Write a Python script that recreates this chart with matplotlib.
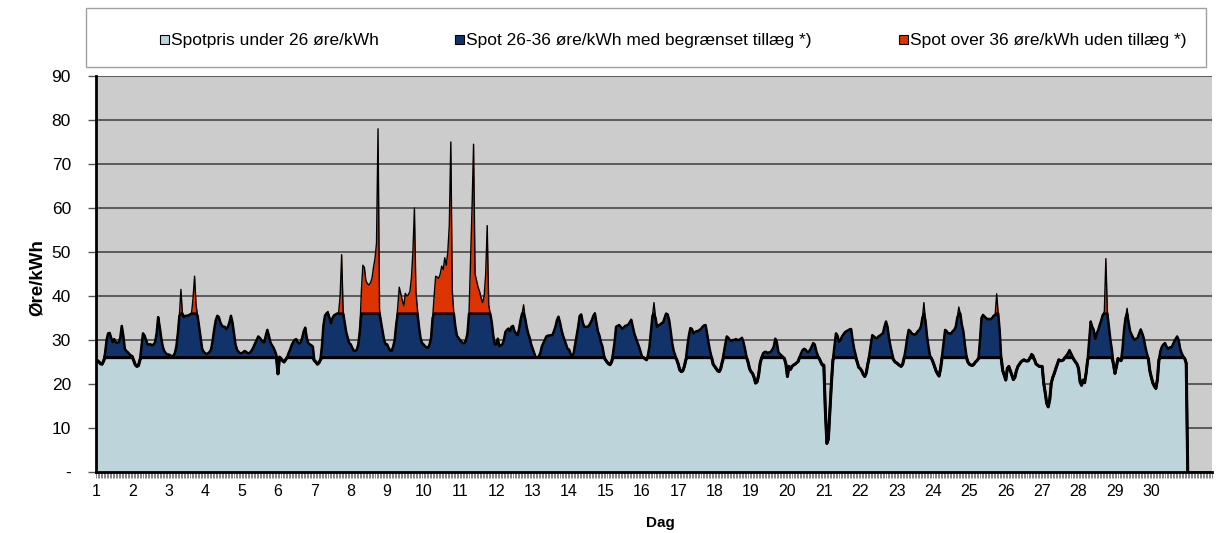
import numpy as np
import matplotlib
matplotlib.use('Agg')
import matplotlib.pyplot as plt
import matplotlib.patches as patches

plt.rcParams['font.family'] = ['Liberation Sans', 'DejaVu Sans']

# hourly spot price, ore/kWh, one list per day (24 values)
d1 = [25.5, 25.3, 25.0, 24.6, 24.5, 25.2, 27.0, 30.0, 31.5, 31.6, 30.5, 29.5, 30.2, 29.5, 29.3, 29.5, 30.5, 33.2, 31.0, 28.0, 27.5, 27.2, 26.8, 26.5]
d2 = [26.3, 25.2, 24.3, 24.0, 24.2, 25.5, 28.5, 31.5, 31.0, 30.0, 29.0, 29.0, 29.0, 28.8, 29.0, 29.5, 31.5, 35.2, 33.0, 30.5, 28.5, 27.5, 27.0, 26.7]
d3 = [26.7, 26.5, 26.3, 26.4, 27.0, 28.5, 31.5, 35.5, 41.5, 36.0, 35.2, 35.5, 35.5, 35.6, 35.8, 36.0, 39.5, 44.5, 38.0, 35.5, 33.0, 30.5, 28.0, 27.3]
d4 = [27.0, 26.8, 27.0, 27.3, 28.0, 30.0, 32.5, 34.5, 35.5, 35.2, 34.0, 33.3, 33.0, 33.0, 32.5, 33.0, 34.0, 35.5, 34.0, 31.5, 29.0, 27.8, 27.3, 27.0]
d5 = [27.0, 27.2, 27.5, 27.3, 27.0, 27.0, 27.3, 27.8, 28.5, 29.3, 30.0, 30.8, 30.5, 30.0, 29.5, 29.5, 31.0, 32.3, 31.0, 29.5, 28.8, 28.3, 27.5, 26.5]
d6 = [22.3, 26.2, 25.8, 25.3, 25.0, 25.5, 26.0, 27.0, 27.8, 28.8, 29.5, 30.0, 30.2, 29.5, 29.2, 29.5, 30.5, 32.0, 32.8, 30.5, 29.3, 29.0, 28.8, 28.5]
d7 = [25.3, 25.0, 24.5, 24.8, 25.5, 28.5, 33.3, 35.5, 36.2, 36.5, 35.0, 33.8, 35.0, 35.6, 35.8, 36.0, 36.2, 40.0, 49.4, 36.5, 34.0, 31.8, 30.5, 29.3]
d8 = [29.0, 28.2, 27.6, 27.5, 27.8, 29.0, 32.0, 41.0, 47.0, 46.5, 43.5, 42.8, 42.5, 43.0, 44.0, 46.5, 48.5, 52.0, 78.0, 37.0, 34.0, 32.0, 30.0, 29.0]
d9 = [29.0, 28.2, 27.6, 27.5, 28.5, 30.0, 33.5, 37.5, 42.0, 40.5, 39.0, 37.8, 40.6, 40.0, 40.3, 41.0, 44.0, 50.0, 60.0, 41.0, 37.0, 33.0, 30.5, 29.3]
d10 = [29.0, 28.6, 28.3, 28.2, 29.0, 30.5, 35.0, 40.0, 44.5, 44.3, 44.0, 45.0, 46.8, 46.0, 48.7, 47.0, 50.0, 56.0, 75.0, 41.0, 36.0, 33.0, 31.0, 30.5]
d11 = [30.0, 29.6, 29.3, 29.3, 30.0, 31.5, 36.0, 48.0, 60.0, 74.5, 45.0, 43.5, 42.0, 41.0, 39.5, 38.5, 40.0, 45.0, 56.0, 38.0, 36.0, 34.0, 31.0, 29.0]
d12 = [29.0, 30.3, 28.6, 28.8, 29.0, 30.0, 31.8, 32.3, 32.6, 32.0, 33.0, 33.2, 32.0, 31.5, 31.1, 32.5, 34.5, 36.0, 38.0, 35.0, 33.0, 31.5, 30.5, 29.0]
d13 = [28.0, 27.0, 26.0, 26.0, 26.3, 27.0, 28.5, 29.3, 30.0, 30.8, 31.0, 31.0, 31.1, 31.1, 32.0, 33.0, 34.5, 35.3, 34.0, 32.3, 31.0, 30.0, 29.0, 28.0]
d14 = [27.8, 26.8, 26.4, 27.0, 29.0, 31.0, 33.0, 35.5, 35.8, 34.0, 33.0, 33.0, 33.0, 33.2, 33.8, 34.5, 35.5, 36.2, 34.0, 32.0, 31.0, 29.5, 28.5, 26.5]
d15 = [25.5, 25.0, 24.6, 24.4, 25.0, 27.0, 29.5, 33.0, 33.2, 33.4, 33.0, 32.6, 32.8, 33.2, 33.3, 33.5, 34.0, 34.6, 33.0, 31.5, 30.5, 29.5, 28.6, 27.5]
d16 = [26.3, 26.0, 25.8, 25.5, 26.5, 28.5, 32.0, 35.5, 38.5, 35.0, 33.0, 33.3, 33.5, 33.8, 34.0, 35.0, 36.0, 35.8, 34.5, 32.0, 29.3, 27.5, 26.5, 25.5]
d17 = [24.5, 23.2, 22.8, 23.0, 24.0, 25.5, 28.5, 31.0, 32.7, 32.5, 31.5, 31.8, 32.0, 32.0, 32.3, 32.5, 33.0, 33.3, 33.4, 31.5, 29.3, 27.5, 26.0, 24.5]
d18 = [24.0, 23.5, 23.0, 22.8, 23.5, 25.0, 27.0, 29.0, 30.8, 30.5, 30.0, 29.8, 30.0, 30.0, 30.2, 30.0, 30.0, 30.2, 30.5, 29.5, 28.0, 26.2, 25.0, 23.5]
d19 = [22.8, 22.4, 21.5, 20.2, 20.5, 22.0, 24.7, 26.0, 27.0, 27.3, 27.3, 27.0, 27.2, 27.3, 27.8, 28.5, 30.3, 29.5, 27.3, 26.8, 26.5, 26.2, 25.8, 24.5]
d20 = [21.7, 24.0, 23.3, 24.0, 24.3, 24.5, 24.8, 25.1, 26.0, 27.0, 27.7, 28.0, 27.8, 27.3, 27.3, 27.8, 28.5, 29.3, 29.0, 27.5, 26.5, 25.8, 25.0, 24.3]
d21 = [24.3, 14.0, 6.5, 7.5, 14.0, 20.2, 25.5, 28.5, 31.5, 31.0, 29.6, 30.0, 30.8, 31.3, 31.8, 32.0, 32.2, 32.4, 32.5, 30.0, 28.0, 26.6, 25.0, 23.8]
d22 = [23.5, 23.0, 22.2, 21.7, 22.5, 24.5, 26.6, 29.0, 31.1, 30.8, 30.5, 30.4, 30.8, 31.0, 31.3, 31.5, 33.0, 34.2, 33.0, 30.4, 28.5, 27.0, 25.5, 25.0]
d23 = [24.8, 24.5, 24.2, 24.0, 24.5, 26.0, 28.0, 30.5, 32.3, 32.0, 31.5, 31.3, 31.2, 31.5, 32.0, 32.3, 33.0, 35.0, 38.5, 34.5, 31.0, 28.5, 26.5, 25.8]
d24 = [25.0, 24.0, 23.0, 22.3, 21.8, 23.5, 26.5, 29.5, 32.3, 32.0, 31.5, 31.5, 31.5, 32.0, 32.3, 33.0, 35.0, 37.5, 36.0, 33.5, 32.0, 29.0, 26.5, 25.0]
d25 = [24.5, 24.3, 24.2, 24.5, 25.0, 25.3, 25.8, 30.0, 35.0, 35.7, 35.3, 35.0, 34.7, 34.8, 34.7, 35.0, 35.5, 35.7, 40.5, 36.0, 32.0, 25.8, 23.0, 22.0]
d26 = [20.9, 23.5, 24.0, 23.0, 22.0, 21.0, 21.5, 23.0, 24.0, 24.5, 25.0, 25.3, 25.5, 25.3, 25.2, 25.3, 26.0, 26.8, 26.5, 25.5, 24.5, 24.3, 24.0, 24.0]
d27 = [24.0, 20.2, 18.0, 15.6, 14.8, 16.5, 20.2, 21.5, 22.4, 23.5, 24.5, 25.5, 25.3, 25.3, 25.5, 26.0, 26.5, 27.0, 27.7, 27.0, 26.3, 25.5, 25.0, 24.5]
d28 = [23.5, 20.5, 19.7, 20.9, 20.3, 22.5, 25.5, 30.0, 34.2, 33.0, 32.3, 30.3, 31.5, 32.3, 33.5, 34.5, 35.7, 36.5, 48.5, 36.5, 33.0, 30.0, 27.7, 24.5]
d29 = [22.4, 24.0, 25.8, 25.5, 25.3, 28.0, 32.3, 35.0, 37.2, 34.0, 32.0, 31.2, 30.5, 30.0, 30.3, 30.5, 31.5, 32.4, 31.5, 30.4, 28.5, 27.0, 25.8, 23.0]
d30 = [21.5, 20.2, 19.5, 19.0, 21.0, 25.5, 27.5, 28.5, 29.0, 29.3, 28.5, 28.0, 28.3, 28.3, 28.8, 29.6, 30.2, 30.8, 30.0, 28.0, 27.0, 26.3, 25.8, 24.7]
end_value = [0.0]  # series drops to zero after the last hour

days = [d1, d2, d3, d4, d5, d6, d7, d8, d9, d10, d11, d12, d13, d14, d15,
        d16, d17, d18, d19, d20, d21, d22, d23, d24, d25, d26, d27, d28, d29, d30]
day_labels = [str(i) for i in range(1, 31)]

low_limit = 26
high_limit = 36
labels = ['Spotpris under 26 øre/kWh',
          'Spot 26-36 øre/kWh med begrænset tillæg *)',
          'Spot over 36 øre/kWh uden tillæg *)']
colors = ['#BCD4DA', '#11336A', '#DD3300']

price = np.array(sum(days, []) + end_value)
hours = np.arange(len(price))

# stacked like the spreadsheet: three series per hour
low = np.minimum(price, low_limit)
mid = np.minimum(price, high_limit)

fig = plt.figure(figsize=(12.16, 5.33), dpi=100)
ax = fig.add_axes([96/1216, 1-472/533, (1212-96)/1216, (472-76)/533])
ax.set_facecolor('#CCCCCC')

ax.fill_between(hours, 0, low, color=colors[0], lw=0, zorder=2)
ax.fill_between(hours, low, mid, color=colors[1], lw=0, zorder=2)
ax.fill_between(hours, mid, price, color=colors[2], lw=0, zorder=2)
ax.plot(hours, low, color='black', lw=2.2, zorder=3)
ax.plot(hours, mid, color='black', lw=1.8, zorder=3)
ax.plot(hours, price, color='black', lw=1.0, zorder=4)

ax.set_xlim(0, 736)
ax.set_ylim(0, 90)
ax.set_yticks(range(0, 91, 10))
ax.set_yticklabels(['-'] + [str(v) for v in range(10, 91, 10)], fontsize=12.5)
ax.set_xticks(np.arange(30) * 24)
ax.set_xticklabels(day_labels, fontsize=11.5)
ax.set_xticks(np.arange(0, 737), minor=True)
ax.tick_params(axis='x', which='both', length=4, width=0.5, color='#555555', pad=5)
ax.tick_params(axis='y', length=6, width=1, color='#555555', pad=12)
ax.grid(axis='y', color='#5A5A5A', lw=1.4, zorder=1)
ax.set_axisbelow(True)

for s in ['top', 'right']:
    ax.spines[s].set_visible(False)
ax.spines['left'].set_linewidth(2)
ax.spines['bottom'].set_linewidth(2)
ax.spines['left'].set_zorder(5)
ax.spines['bottom'].set_zorder(5)

fig.text(37/1216, 1-278/533, 'Øre/kWh', rotation=90, fontsize=13.5, fontweight='bold',
         ha='center', va='center')
fig.text(660/1216, 1-523/533, 'Dag', fontsize=11, fontweight='bold', ha='center', va='center')

# legend box
fig.patches.append(patches.Rectangle((86/1216, 1-67/533), (1206-86)/1216, 59/533,
                                     transform=fig.transFigure, facecolor='white',
                                     edgecolor='#A0A0A0', lw=1))
leg_x = [160, 455, 899]
for x, lab, c in zip(leg_x, labels, colors):
    fig.patches.append(patches.Rectangle((x/1216, 1-44/533), 9/1216, 9/533,
                                         transform=fig.transFigure, facecolor=c,
                                         edgecolor='black', lw=0.8))
    fig.text((x+11)/1216, 1-40/533, lab, fontsize=12.5, va='center', ha='left')

fig.savefig('out.png', dpi=100)
